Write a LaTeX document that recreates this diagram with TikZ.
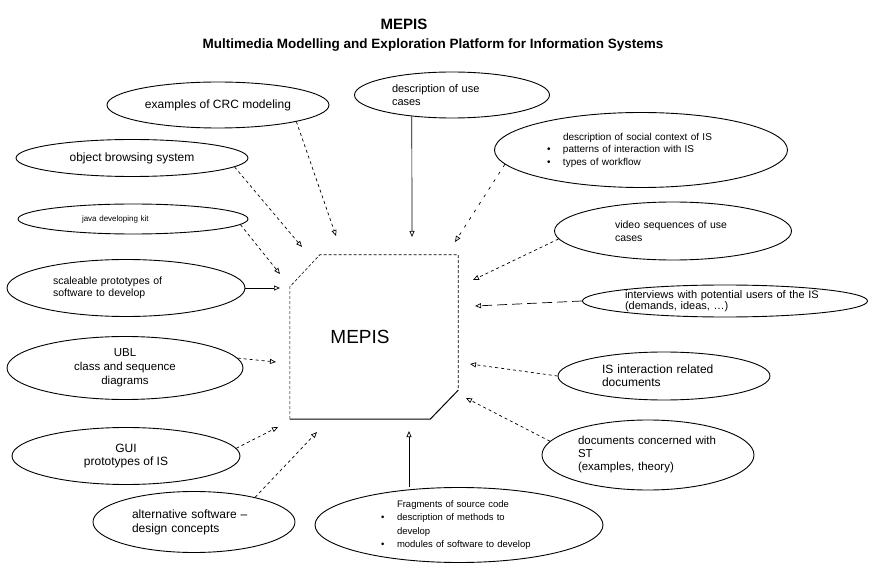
\documentclass[tikz,border=0pt]{standalone}
\usepackage{fontspec}
\setmainfont{Liberation Sans}
\usetikzlibrary{arrows.meta, positioning, calc, shapes.geometric}
\newcommand{\bdot}{\makebox[16pt][l]{\textbullet}}
\newcommand{\bgap}{\hspace*{16pt}}

\begin{document}
\begin{tikzpicture}[
  x=1pt, y=-1pt,
  ell/.style={draw, ellipse, line width=0.9pt, inner sep=0pt, align=left, font=\fontsize{11}{12.5}\selectfont},
  link/.style={-{Triangle[open, length=6pt, width=5pt]}, line width=0.7pt},
  dep/.style={link, dashed}
]
\useasboundingbox (0,0) rectangle (871,564);

\node[font=\fontsize{15}{18}\selectfont\bfseries] (title) at (404,24) {MEPIS};
\node[font=\fontsize{13.5}{15}\selectfont\bfseries] (subtitle) at (433,45) {Multimedia Modelling and Exploration Platform for Information Systems};

% central system
\node[font=\fontsize{19}{22}\selectfont, minimum width=168pt, minimum height=164pt] (mepis) at (374,337) {MEPIS\hspace*{28pt}};
\draw[densely dashed, line width=0.6pt] (mepis.south west) -- ($(mepis.north west)+(0,32)$) -- ($(mepis.north west)+(30,0)$) -- (mepis.north east) -- ($(mepis.south east)+(0,-29)$);
\draw[line width=1pt] (mepis.south west) -- ($(mepis.south east)+(-28,0)$) -- ($(mepis.south east)+(0,-29)$);

% left side
\node[ell, minimum width=222pt, minimum height=46pt, align=center, font=\fontsize{12}{14}\selectfont] (crc) at (218,105) {examples of CRC modeling};
\node[ell, minimum width=232pt, minimum height=37pt, align=center, font=\fontsize{12}{14}\selectfont] (obj) at (132,158) {object browsing system};
\node[ell, minimum width=230pt, minimum height=30pt, text width=102pt, font=\fontsize{8}{10}\selectfont] (java) at (133,219) {java developing kit};
\node[ell, minimum width=238pt, minimum height=57pt, text width=146pt, font=\fontsize{10.5}{12.5}\selectfont] (scl) at (126,288) {scaleable prototypes of\\software to develop};
\node[ell, minimum width=236pt, minimum height=63pt, align=center, font=\fontsize{11.5}{14}\selectfont] (ubl) at (125,368) {UBL\\class and sequence\\diagrams};
\node[ell, minimum width=228pt, minimum height=57pt, align=center, font=\fontsize{12}{13}\selectfont] (gui) at (126,456) {GUI\\prototypes of IS};
\node[ell, minimum width=202pt, minimum height=61pt, text width=124pt, font=\fontsize{12}{14}\selectfont] (alt) at (194,522) {alternative software --\\design concepts};

% bottom and right side
\node[ell, minimum width=288pt, minimum height=75pt, text width=156pt, font=\fontsize{9.5}{13.3}\selectfont] (frag) at (459,525) {\bgap Fragments of source code\\\bdot description of methods to\\\bgap develop\\\bdot modules of software to develop};
\node[ell, minimum width=212pt, minimum height=70pt, text width=140pt, font=\fontsize{11.5}{13}\selectfont] (doc) at (648,455) {documents concerned with\\ST\\(examples, theory)};
\node[ell, minimum width=212pt, minimum height=48pt, text width=124pt, font=\fontsize{12}{13}\selectfont] (isi) at (664,376) {IS interaction related\\documents};
\node[ell, minimum width=285pt, minimum height=32pt, text width=200pt, font=\fontsize{11}{11}\selectfont] (int) at (725,301) {interviews with potential users of the IS\\(demands, ideas, \ldots)};
\node[ell, minimum width=237pt, minimum height=58pt, text width=116pt, font=\fontsize{10.5}{12.5}\selectfont] (vid) at (673,231) {video sequences of use\\cases};
\node[ell, minimum width=293pt, minimum height=75pt, text width=188pt, font=\fontsize{10}{12.5}\selectfont] (soc) at (641,150) {\bgap description of social context of IS\\\bdot patterns of interaction with IS\\\bdot types of workflow};
\node[ell, minimum width=195pt, minimum height=46pt, text width=120pt, font=\fontsize{11}{12.5}\selectfont] (use) at (452,95) {description of use\\cases};

% arrow tips in front of the system box
\coordinate (tcrc) at (336,236);
\coordinate (tobj) at (302,247);
\coordinate (tjava) at (280,274);
\coordinate (tscl) at (280,288);
\coordinate (tubl) at (276,362);
\coordinate (tgui) at (278,427);
\coordinate (talt) at (317,432);
\coordinate (tfrag) at (409,431);
\coordinate (tdoc) at (466,398);
\coordinate (tisi) at (470,364);
\coordinate (tint) at (475,306);
\coordinate (tvid) at (473,280);
\coordinate (tsoc) at (455,242);
\coordinate (tuse) at (412,237);

\draw[dep] (crc.-12) -- (tcrc);
\draw[dep] (obj.-5) -- (tobj);
\draw[dep] (java.-3) -- (tjava);
\draw[link] (scl.east) -- (tscl);
\draw[dep] (ubl.5) -- (tubl);
\draw[dep] (gui.4) -- (tgui);
\draw[dep] (alt.22) -- (talt);
\draw[link] (frag.north -| tfrag) -- (tfrag);
\draw[dep] (doc.172) -- (tdoc);
\draw[dep] (isi.west) -- (tisi);
\draw[link, dash pattern=on 10pt off 5pt] (int.west) -- (tint);
\draw[dep] (vid.184) -- (tvid);
\draw[link, loosely dashed] (soc.186) -- (tsoc);
\draw[link] (use.208) -- (tuse);
\end{tikzpicture}
\end{document}
